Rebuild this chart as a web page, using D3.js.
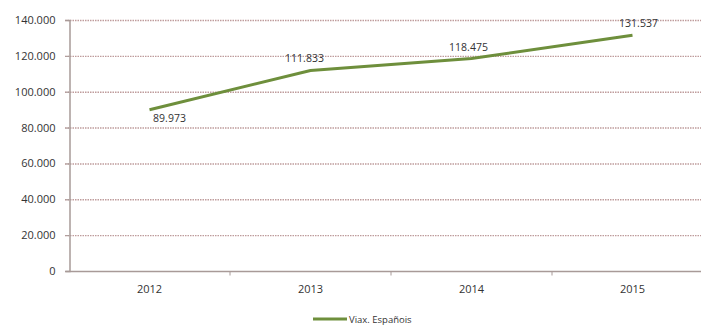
<!DOCTYPE html>
<html>
<head>
<meta charset="utf-8">
<script src="https://cdn.jsdelivr.net/npm/d3@7"></script>
<style>
  body { margin: 0; background: #fff; }
  text { font-family: "Open Sans", "Liberation Sans", sans-serif; fill: #333; }
</style>
</head>
<body>
<div id="chart"></div>
<script>
// data
var years = ["2012", "2013", "2014", "2015"],
    viaxeiros = [89973, 111833, 118475, 131537],
    yTicks = [0, 20000, 40000, 60000, 80000, 100000, 120000, 140000],
    seriesName = "Viax. Españois";

// label offsets next to each point (dx, dy)
var labelShift = [[20, 12], [-6, -8], [-3, -8], [6, -8]];

var width = 701, height = 328;
var margin = { top: 20, right: -12, bottom: 57, left: 69 };

var locale = d3.formatLocale({ decimal: ",", thousands: ".", grouping: [3], currency: ["", "€"] });
var fmt = locale.format(",d");

var svg = d3.select("#chart").append("svg")
    .attr("width", width)
    .attr("height", height);

var x = d3.scaleBand()
    .domain(years)
    .range([margin.left, width - margin.right]);

var y = d3.scaleLinear()
    .domain([0, 140000])
    .range([height - margin.bottom, margin.top]);

// gridlines
svg.append("g").selectAll("line")
    .data(yTicks.slice(1))
    .enter().append("line")
    .attr("x1", margin.left - 4)
    .attr("x2", width)
    .attr("y1", function (d) { return y(d) + 0.5; })
    .attr("y2", function (d) { return y(d) + 0.5; })
    .style("stroke", "#bf9c9c")
    .style("stroke-width", 1.4)
    .style("stroke-dasharray", "1.5,1");

// y axis
var yAxis = svg.append("g")
    .attr("transform", "translate(" + (margin.left + 0.5) + ",0)")
    .call(d3.axisLeft(y).tickValues(yTicks).tickFormat(fmt).tickSize(4).tickPadding(10));
yAxis.select(".domain").style("stroke", "#a89a98").style("stroke-width", 1.5);
yAxis.selectAll(".tick line").style("stroke", "#a89a98");
yAxis.selectAll("text").style("font-size", "11px").style("fill", "#333");

// x axis, ticks on band boundaries
var xAxis = svg.append("g")
    .attr("transform", "translate(0," + (y(0) + 0.5) + ")");
xAxis.append("line")
    .attr("x1", margin.left - 4)
    .attr("x2", width)
    .style("stroke", "#a89a98")
    .style("stroke-width", 1.5);
xAxis.selectAll(".sep")
    .data(years.slice(1))
    .enter().append("line")
    .attr("class", "sep")
    .attr("x1", function (d) { return x(d); })
    .attr("x2", function (d) { return x(d); })
    .attr("y1", 0)
    .attr("y2", 4)
    .style("stroke", "#a89a98");
xAxis.selectAll(".lbl")
    .data(years)
    .enter().append("text")
    .attr("class", "lbl")
    .attr("x", function (d) { return x(d) + x.bandwidth() / 2; })
    .attr("y", 21)
    .style("text-anchor", "middle")
    .style("font-size", "11px")
    .text(function (d) { return d; });

// series line
var line = d3.line()
    .x(function (d, i) { return x(years[i]) + x.bandwidth() / 2; })
    .y(function (d) { return y(d); });

svg.append("path")
    .datum(viaxeiros)
    .attr("d", line)
    .style("fill", "none")
    .style("stroke", "#6e8f3c")
    .style("stroke-width", 3)
    .style("stroke-linejoin", "round");

// value labels
svg.append("g").selectAll("text")
    .data(viaxeiros)
    .enter().append("text")
    .attr("x", function (d, i) { return x(years[i]) + x.bandwidth() / 2 + labelShift[i][0]; })
    .attr("y", function (d, i) { return y(d) + labelShift[i][1]; })
    .style("text-anchor", "middle")
    .style("font-size", "10.5px")
    .text(function (d) { return fmt(d); });

// legend
var legend = svg.append("g")
    .attr("transform", "translate(313," + (height - 9) + ")");
legend.append("line")
    .attr("x1", 0)
    .attr("x2", 34)
    .style("stroke", "#6e8f3c")
    .style("stroke-width", 3);
legend.append("text")
    .attr("x", 36)
    .attr("y", 3.5)
    .style("font-size", "9.5px")
    .text(seriesName);
</script>
</body>
</html>
